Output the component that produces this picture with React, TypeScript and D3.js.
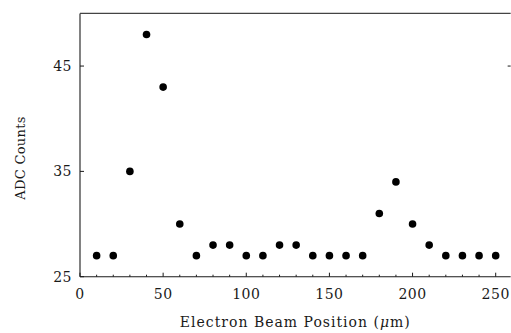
import * as d3 from "d3";
import React from "react";

// electron beam position (um) and ADC counts
const positions = [10, 20, 30, 40, 50, 60, 70, 80, 90, 100, 110, 120, 130, 140, 150, 160, 170, 180, 190, 200, 210, 220, 230, 240, 250];
const adcCounts = [27, 27, 35, 48, 43, 30, 27, 28, 28, 27, 27, 28, 28, 27, 27, 27, 27, 31, 34, 30, 28, 27, 27, 27, 27];
const xTickLabels = [0, 50, 100, 150, 200, 250];
const yTickLabels = [25, 35, 45];

const width = 511;
const height = 333;
const font = "'DejaVu Serif', 'Liberation Serif', serif";
const ink = "#1a1a1a";

export default function App() {
  const x = d3.scaleLinear().domain([0, 250]).range([80, 495.7]);
  const y = d3.scaleLinear().domain([25, 50]).range([276.7, 13.4]);

  const left = x(0);
  const right = x(259);
  const top = y(50);
  const bottom = y(25);

  const minorX = d3.range(0, 260, 10);

  return (
    <div style={{ position: "absolute", left: 0, top: 0 }}>
      <svg width={width} height={height} style={{ display: "block", background: "#fff" }}>
        {/* frame (right edge is cut off in the scan) */}
        <g stroke={ink} strokeWidth={1.1} fill="none">
          <line x1={left} x2={right} y1={bottom} y2={bottom} />
          <line x1={left} x2={left} y1={top} y2={bottom} />
          <line x1={left} x2={right} y1={top} y2={top} stroke="#444" />
        </g>

        {/* x ticks, pointing inward */}
        <g stroke={ink} strokeWidth={1}>
          {minorX.map(v => (
            <line key={v} x1={x(v)} x2={x(v)} y1={bottom} y2={bottom - (v % 50 === 0 ? 4 : 2)} />
          ))}
        </g>
        {/* y ticks */}
        <g stroke={ink} strokeWidth={1}>
          {yTickLabels.map(v => (
            <line key={v} x1={left} x2={left + 4} y1={y(v)} y2={y(v)} />
          ))}
          <line x1={right} x2={right - 3} y1={y(45)} y2={y(45)} />
        </g>

        <g fontFamily={font} fontSize={14} fill={ink}>
          {xTickLabels.map(v => (
            <text key={v} x={x(v)} y={bottom + 22} textAnchor="middle" letterSpacing={0.5}>{v}</text>
          ))}
          {yTickLabels.map(v => (
            <text key={v} x={left - 8} y={y(v) + 5} textAnchor="end" letterSpacing={0.5}>{v}</text>
          ))}
          <text x={(left + right) / 2} y={327} textAnchor="middle" letterSpacing={1}>
            Electron Beam Position (<tspan fontStyle="italic">μ</tspan>m)
          </text>
          <text transform={`translate(25,158) rotate(-90)`} textAnchor="middle" fontSize={13} letterSpacing={0.3}>
            ADC Counts
          </text>
        </g>

        <g fill="#000">
          {positions.map((p, i) => (
            <circle key={p} cx={x(p)} cy={y(adcCounts[i])} r={3.8} />
          ))}
        </g>
      </svg>
    </div>
  );
}
